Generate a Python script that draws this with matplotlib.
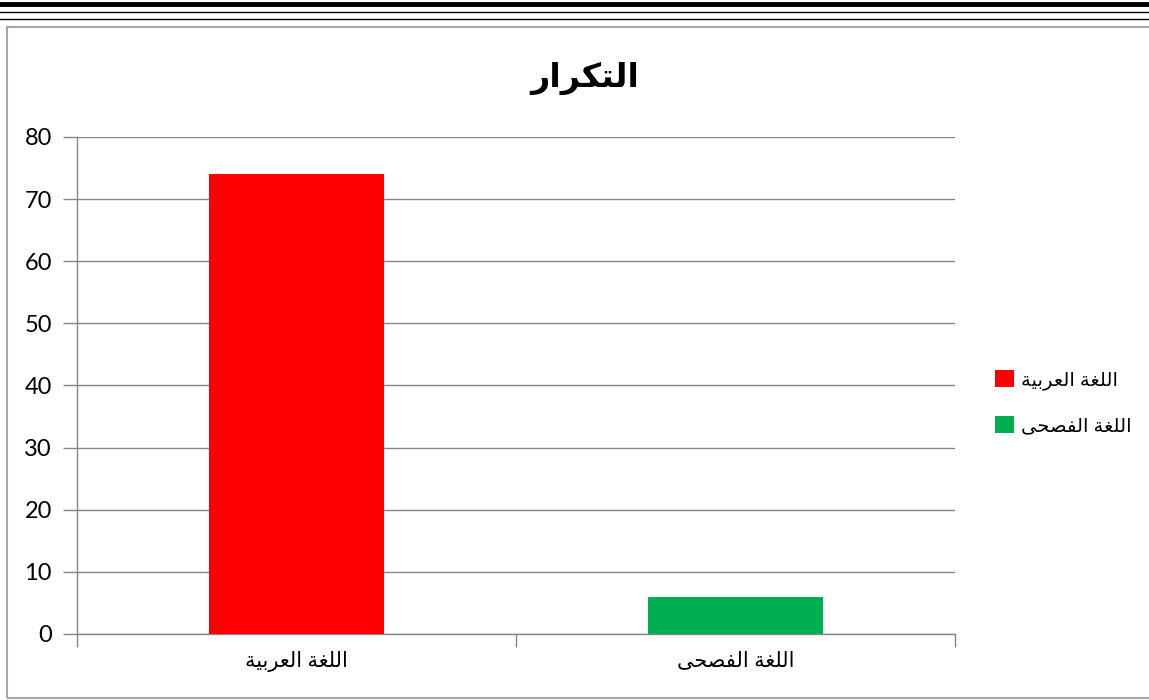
import matplotlib
matplotlib.use("Agg")
import matplotlib.pyplot as plt
from matplotlib.patches import Rectangle, Patch
from matplotlib.lines import Line2D

# data
categories = ["اللغة العربية", "اللغة الفصحى"]
counts = [74, 6]
bar_colors = ["#ff0000", "#00b050"]
title = "التكرار"
y_ticks = [0, 10, 20, 30, 40, 50, 60, 70, 80]

# Arabic presentation forms: (isolated, final, initial, medial)
FORMS = {
    "ا": ("\ufe8d", "\ufe8e", None, None),
    "ب": ("\ufe8f", "\ufe90", "\ufe91", "\ufe92"),
    "ة": ("\ufe93", "\ufe94", None, None),
    "ت": ("\ufe95", "\ufe96", "\ufe97", "\ufe98"),
    "ح": ("\ufea1", "\ufea2", "\ufea3", "\ufea4"),
    "ر": ("\ufead", "\ufeae", None, None),
    "ص": ("\ufeb9", "\ufeba", "\ufebb", "\ufebc"),
    "ع": ("\ufec9", "\ufeca", "\ufecb", "\ufecc"),
    "غ": ("\ufecd", "\ufece", "\ufecf", "\ufed0"),
    "ف": ("\ufed1", "\ufed2", "\ufed3", "\ufed4"),
    "ك": ("\ufed9", "\ufeda", "\ufedb", "\ufedc"),
    "ل": ("\ufedd", "\ufede", "\ufedf", "\ufee0"),
    "ى": ("\ufeef", "\ufef0", None, None),
    "ي": ("\ufef1", "\ufef2", "\ufef3", "\ufef4"),
}


def shape(text):
    # join letters and flip to visual (left-to-right) order
    out = []
    for i, ch in enumerate(text):
        if ch not in FORMS:
            out.append(ch)
            continue
        prev = text[i - 1] if i > 0 else ""
        nxt = text[i + 1] if i + 1 < len(text) else ""
        join_prev = prev in FORMS and FORMS[prev][2] is not None
        join_next = FORMS[ch][2] is not None and nxt in FORMS
        iso, fin, ini, med = FORMS[ch]
        if join_prev and join_next:
            out.append(med)
        elif join_prev:
            out.append(fin)
        elif join_next:
            out.append(ini)
        else:
            out.append(iso)
    return "".join(out)[::-1]


FONT = ["Lato", "DejaVu Sans"]
plt.rcParams["font.family"] = FONT

fig = plt.figure(figsize=(11.49, 7), dpi=100)
ax = fig.add_axes([0.0670, 0.0943, 0.7641, 0.7100])

x = list(range(len(categories)))
ax.bar(x, counts, width=0.4, color=bar_colors, zorder=3)

ax.set_xlim(-0.5, 1.5)
ax.set_ylim(0, 80)
ax.set_yticks(y_ticks)
ax.set_yticklabels([str(v) for v in y_ticks], fontsize=17)
ax.set_xticks([-0.5, 0.5, 1.5])
ax.set_xticklabels([])
ax.set_xticks(x, minor=True)
ax.set_xticklabels([shape(c) for c in categories], minor=True,
                   fontsize=15, family=FONT)
ax.tick_params(axis="x", which="minor", length=0, pad=12)
ax.tick_params(axis="x", which="major", length=9, color="#868686", width=1)
ax.tick_params(axis="y", length=10, color="#868686", width=1, pad=8)

ax.grid(axis="y", color="#868686", linewidth=1, zorder=0)
for side in ["top", "right"]:
    ax.spines[side].set_visible(False)
for side in ["left", "bottom"]:
    ax.spines[side].set_color("#868686")
    ax.spines[side].set_linewidth(1)

fig.text(0.509, 0.888, shape(title), ha="center", va="center",
         fontsize=24, fontweight="bold", family=FONT)

handles = [Patch(facecolor=c, edgecolor="none") for c in bar_colors]
fig.legend(handles, [shape(c) for c in categories], loc="center left",
           bbox_to_anchor=(0.851, 0.425), frameon=False,
           fontsize=14, handlelength=0.95, handleheight=0.95,
           labelspacing=1.35, handletextpad=0.35)

# chart frame and the ruled lines above it
fig.add_artist(Rectangle((0.0065, 0.003), 1.2, 0.958, transform=fig.transFigure,
                         fill=False, edgecolor="#a6a6a6", linewidth=1.5))
fig.add_artist(Line2D([0, 1], [0.995, 0.995], transform=fig.transFigure,
                      color="black", linewidth=3.5))
fig.add_artist(Line2D([0, 1], [0.9825, 0.9825], transform=fig.transFigure,
                      color="black", linewidth=1))
fig.add_artist(Line2D([0, 1], [0.9735, 0.9735], transform=fig.transFigure,
                      color="black", linewidth=1))

fig.savefig("out.png", dpi=100)
